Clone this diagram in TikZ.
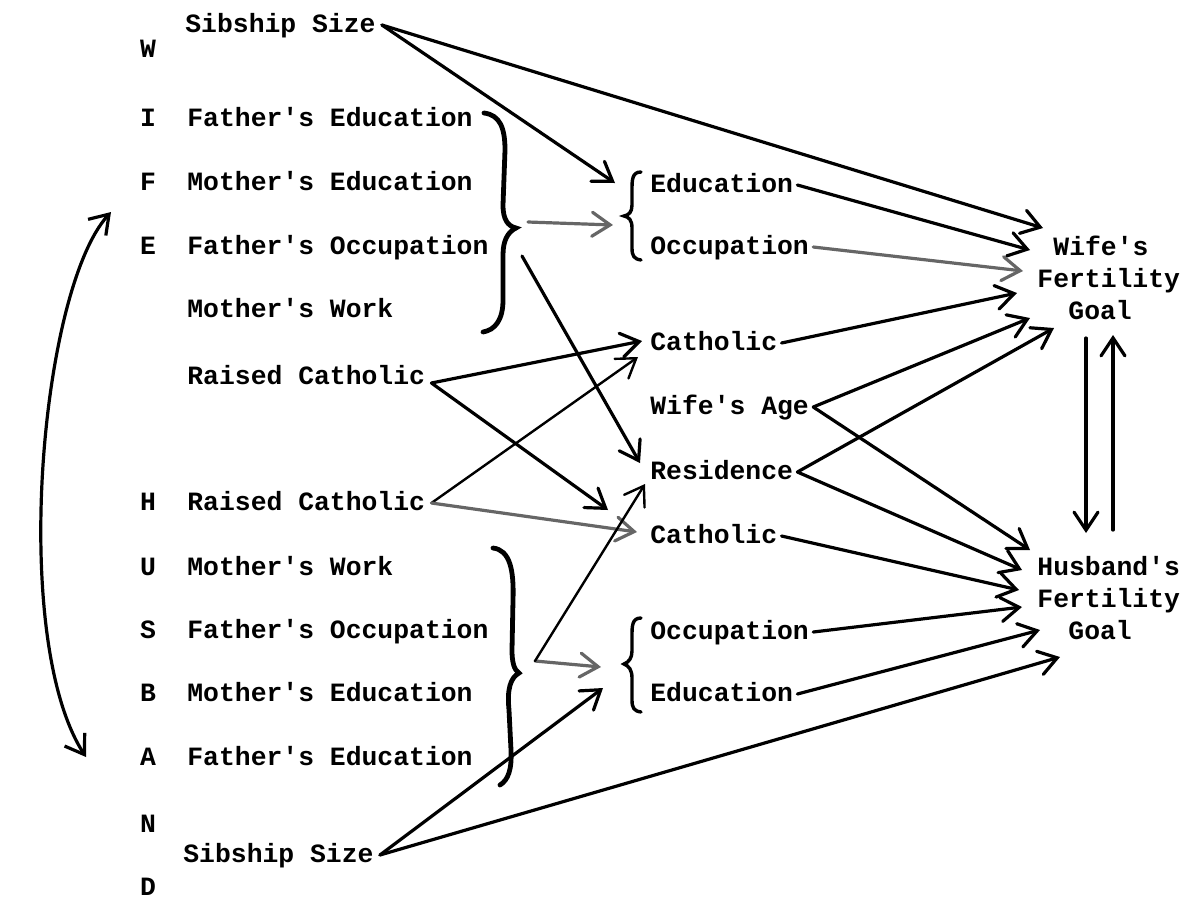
\documentclass[tikz,border=0pt]{standalone}
\usepackage{fontspec}
\setmonofont{Liberation Mono}
\usetikzlibrary{arrows.meta}
\begin{document}
\begin{tikzpicture}[x=0.5pt,y=-0.5pt,
  lab/.style={anchor=west,inner sep=0pt,text height=7.5pt,text depth=0pt,font=\fontsize{13.2}{16}\selectfont\ttfamily\bfseries},
  letter/.style={lab,anchor=center},
  arr/.style={line width=1.6pt,line cap=round,-{Straight Barb[length=9pt,width=12pt,line cap=round]}},
  garr/.style={arr,draw=black!60},
  brc/.style={line width=2.4pt,line cap=round},
  sbrc/.style={line width=1.7pt,line cap=round},
  dbl/.style={line width=1.6pt,{Straight Barb[length=9pt,width=12pt]}-{Straight Barb[length=9pt,width=12pt]}}
]
\useasboundingbox (0,0) rectangle (1188,901);

% side letters
\node[letter] (lW) at (148,50) {W};
\node[letter] (lI) at (148,119) {I};
\node[letter] (lF) at (148,183) {F};
\node[letter] (lE) at (148,247) {E};
\node[letter] (lH) at (148,503) {H};
\node[letter] (lU) at (148,568) {U};
\node[letter] (lS) at (148,631) {S};
\node[letter] (lB) at (148,694) {B};
\node[letter] (lA) at (148,758) {A};
\node[letter] (lN) at (148,825) {N};
\node[letter] (lD) at (148,888) {D};

% left labels
\node[lab] (sibW) at (185,25) {Sibship Size};
\node[lab] (feW) at (187,119) {Father's Education};
\node[lab] (meW) at (187,183) {Mother's Education};
\node[lab] (foW) at (187,247) {Father's Occupation};
\node[lab] (mwW) at (187,310) {Mother's Work};
\node[lab] (rcW) at (187,377) {Raised Catholic};
\node[lab] (rcH) at (187,503) {Raised Catholic};
\node[lab] (mwH) at (187,568) {Mother's Work};
\node[lab] (foH) at (187,631) {Father's Occupation};
\node[lab] (meH) at (187,694) {Mother's Education};
\node[lab] (feH) at (187,758) {Father's Education};
\node[lab] (sibH) at (183,855) {Sibship Size};

% middle labels
\node[lab] (eduW) at (650,185) {Education};
\node[lab] (occW) at (650,247) {Occupation};
\node[lab] (catW) at (650,343) {Catholic};
\node[lab] (age) at (650,407) {Wife's Age};
\node[lab] (res) at (650,472) {Residence};
\node[lab] (catH) at (650,536) {Catholic};
\node[lab] (occH) at (650,632) {Occupation};
\node[lab] (eduH) at (650,694) {Education};

% goals
\node[lab] (wg1) at (1053,248) {Wife's};
\node[lab] (wg2) at (1037,280) {Fertility};
\node[lab] (wg3) at (1068,312) {Goal};
\node[lab] (hg1) at (1037,568) {Husband's};
\node[lab] (hg2) at (1037,600) {Fertility};
\node[lab] (hg3) at (1068,632) {Goal};

% big braces
\draw[brc] (484,113) .. controls (500,115) and (505,128) .. (505,150) -- (503,205)
  .. controls (503,220) and (508,226) .. (516,228) coordinate (BW)
  .. controls (508,232) and (503,240) .. (503,255) -- (503,300)
  .. controls (503,320) and (495,330) .. (483,332);
\draw[brc] (493,548) .. controls (510,550) and (514,570) .. (513,600) -- (512,650)
  .. controls (512,662) and (514,670) .. (519,673) coordinate (BH)
  .. controls (510,678) and (507,690) .. (509,710) -- (511,750)
  .. controls (512,770) and (508,780) .. (500,785);

% small braces
\draw[sbrc] (641,172) .. controls (632,172) and (632,180) .. (632,190) -- (632,205)
  .. controls (632,212) and (629,215) .. (624,216) coordinate (bW)
  .. controls (629,217) and (632,220) .. (632,228) -- (632,248)
  .. controls (632,256) and (634,259) .. (641,260);
\draw[sbrc] (641,618) .. controls (632,618) and (632,626) .. (632,636) -- (632,651)
  .. controls (632,658) and (629,662) .. (624,664) coordinate (bH)
  .. controls (629,666) and (632,670) .. (632,678) -- (632,700)
  .. controls (632,708) and (634,711) .. (641,712);

% arrow end points
\coordinate (tBW1) at (615,183);
\coordinate (tBW2) at (613,225);
\coordinate (tResW) at (640,463);
\coordinate (tBH1) at (601,667);
\coordinate (tBH2) at (603,688);
\coordinate (tResH) at (645,484);
\coordinate (tCatW1) at (642,341);
\coordinate (tCatW2) at (638,357);
\coordinate (tCatH1) at (608,510);
\coordinate (tCatH2) at (637,532);
\coordinate (w1) at (1043,228);
\coordinate (w2) at (1030,250);
\coordinate (w3) at (1023,271);
\coordinate (w4) at (1017,293);
\coordinate (w5) at (1030,318);
\coordinate (w6) at (1054,328);
\coordinate (h1) at (1030,550);
\coordinate (h2) at (1022,570);
\coordinate (h3) at (1019,590);
\coordinate (h4) at (1022,607);
\coordinate (h5) at (1040,630);
\coordinate (h6) at (1060,657);
\coordinate (dn1) at (1086,338);
\coordinate (dn2) at (1086,533);
\coordinate (up1) at (1113,530);
\coordinate (up2) at (1113,335);
\coordinate (cT) at (111,212);
\coordinate (cB) at (86,757);

% connectors from left
\draw[arr] ([xshift=3]sibW.east) -- (tBW1);
\draw[arr] ([xshift=3]sibW.east) -- (w1);
\draw[garr] ([xshift=6,yshift=3]BW) -- (tBW2);
\draw[arr] ([xshift=3,yshift=-14]BW) -- (tResW);
\draw[arr] ([xshift=3,yshift=-3]rcW.east) -- (tCatW1);
\draw[arr] ([xshift=3,yshift=-3]rcW.east) -- (tCatH1);
\draw[arr,line width=1.2pt] ([xshift=3]rcH.east) -- (tCatW2);
\draw[garr] ([xshift=3]rcH.east) -- (tCatH2);
\draw[garr] ([xshift=8,yshift=6]BH) -- (tBH1);
\draw[arr,line width=1.2pt] ([xshift=8,yshift=6]BH) -- (tResH);
\draw[arr] ([xshift=3]sibH.east) -- (tBH2);
\draw[arr] ([xshift=3]sibH.east) -- (h6);

% connectors to goals
\draw[arr] ([xshift=2]eduW.east) -- (w2);
\draw[garr] ([xshift=2]occW.east) -- (w3);
\draw[arr] ([xshift=2]catW.east) -- (w4);
\draw[arr] ([xshift=2]age.east) -- (w5);
\draw[arr] ([xshift=2]age.east) -- (h1);
\draw[arr] ([xshift=2]res.east) -- (w6);
\draw[arr] ([xshift=2]res.east) -- (h2);
\draw[arr] ([xshift=2]catH.east) -- (h3);
\draw[arr] ([xshift=2]occH.east) -- (h4);
\draw[arr] ([xshift=2]eduH.east) -- (h5);

% reciprocal arrows
\draw[arr] (dn1) -- (dn2);
\draw[arr] (up1) -- (up2);

% curved double arrow
\draw[dbl] (cT) .. controls (40,290) and (10,640) .. (cB);
\end{tikzpicture}
\end{document}
